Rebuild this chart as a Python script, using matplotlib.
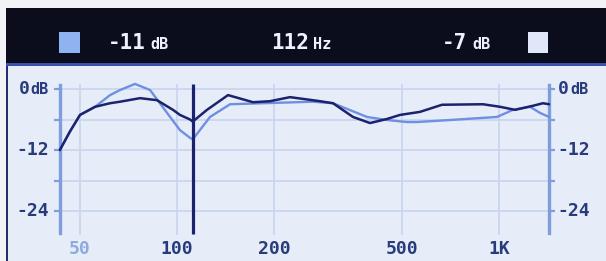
import matplotlib
matplotlib.use("Agg")
import matplotlib.pyplot as plt
from matplotlib.patches import Rectangle

# ---------------- data ----------------
dark_freq = [43.3, 46.5, 50, 55.7, 62.0, 66.6, 76.8, 86.7, 97.2, 102.2, 109.8, 112,
             124.0, 144.1, 172.3, 194.6, 224.5, 278.2, 305.3, 352.2, 397.8, 449.0,
             492.9, 568.6, 665.6, 892.4, 1007.6, 1121.7, 1275.8, 1370.5, 1431]
dark_db = [-12.0, -8.4, -5.1, -3.5, -2.8, -2.5, -1.8, -2.2, -4.1, -5.1, -6.0, -6.4,
           -4.1, -1.2, -2.6, -2.4, -1.6, -2.4, -2.8, -5.5, -6.7, -5.9,
           -5.1, -4.5, -3.1, -3.0, -3.5, -4.1, -3.3, -2.8, -3.0]

light_freq = [43.3, 46.5, 50, 55.7, 62.0, 66.6, 74.1, 82.5, 93.2, 102.2, 109.8, 112,
              126.7, 146.2, 185.1, 264.6, 305.3, 389.3, 449.0, 518.2, 556.5, 704.8,
              986.2, 1105.8, 1248.8, 1341.5, 1431]
light_db = [-12.0, -8.4, -5.1, -3.5, -1.2, -0.2, 1.0, -0.2, -4.7, -8.1, -9.6, -9.9,
            -5.5, -3.0, -2.8, -2.5, -2.8, -5.5, -6.1, -6.5, -6.5, -6.1,
            -5.5, -4.1, -3.5, -4.7, -5.5]

x_ticks = [50, 100, 200, 500, 1000]
x_tick_labels = ["50", "100", "200", "500", "1K"]
y_ticks = [0, -6, -12, -18, -24]
y_labels = {0: "0", -12: "-12", -24: "-24"}

cursor_freq = 112
left_level = -11
right_level = -7

# ---------------- layout ----------------
W, H = 606, 261
PX_PER_DEC = 322.0
X50 = 80.0
Y0DB = 89.0
PX_PER_DB = 61.0 / 12.0


def px2f(x):
    return 50 * 10 ** ((x - X50) / PX_PER_DEC)


def py2db(y):
    return -(y - Y0DB) / PX_PER_DB


f_left, f_right = px2f(60), px2f(549)
plot_top, plot_left = 66, 6

MONO = "DejaVu Sans Mono"
navy_txt = "#283c7c"
axis_col = "#7d9ddb"
grid_col = "#c6d4ee"
dark_col = "#1b226e"
light_col = "#6f8fe2"

fig = plt.figure(figsize=(W / 100, H / 100), dpi=100, facecolor="#f1f3f7")

bg = fig.add_axes([0, 0, 1, 1])
bg.set_xlim(0, W)
bg.set_ylim(H, 0)
bg.axis("off")
# header
bg.add_patch(Rectangle((plot_left, 8), W - plot_left, 56, color="#0b0d1c", lw=0))
bg.add_patch(Rectangle((plot_left, 63), W - plot_left, 3, color="#3a52ad", lw=0))
# plot background
bg.add_patch(Rectangle((plot_left, plot_top), W - plot_left, H - plot_top, color="#e6edf8", lw=0))
bg.add_patch(Rectangle((plot_left, plot_top), 2, H - plot_top, color="#26306e", lw=0))
# header squares
bg.add_patch(Rectangle((59, 32), 21, 21, color="#8fb3f0", lw=0))
bg.add_patch(Rectangle((528, 32), 20, 21, color="#dfe7f8", lw=0))
hdr = dict(color="#eef2ff", fontfamily=MONO, fontweight="bold", va="center")
bg.text(146, 43, f"{left_level}", fontsize=15, ha="right", **hdr)
bg.text(150, 44.5, "dB", fontsize=11, ha="left", **hdr)
bg.text(309, 43, f"{cursor_freq}", fontsize=15, ha="right", **hdr)
bg.text(313, 44.5, "Hz", fontsize=11, ha="left", **hdr)
bg.text(467, 43, f"{right_level}", fontsize=15, ha="right", **hdr)
bg.text(472, 44.5, "dB", fontsize=11, ha="left", **hdr)

# data axes
ax = fig.add_axes([plot_left / W, 0, (W - plot_left) / W, (H - plot_top) / H])
ax.set_xscale("log")
ax.set_xlim(px2f(plot_left), px2f(W))
ax.set_ylim(py2db(H), py2db(plot_top))
ax.patch.set_alpha(0)
for s in ["top", "bottom"]:
    ax.spines[s].set_visible(False)
y_lo, y_hi = py2db(233), py2db(85)
for s, pos in [("left", f_left), ("right", f_right)]:
    ax.spines[s].set_position(("data", pos))
    ax.spines[s].set_bounds(y_lo, y_hi)
    ax.spines[s].set_color(axis_col)
    ax.spines[s].set_linewidth(2.4)
ax.set_yticks(y_ticks)
ax.yaxis.set_ticks_position("both")
ax.tick_params(axis="y", direction="out", length=4, width=1.6, color=axis_col,
               labelleft=False, labelright=False)
ax.set_xticks([])
ax.xaxis.set_minor_locator(matplotlib.ticker.NullLocator())

# grid
ax.hlines(y_ticks, f_left, f_right, color=grid_col, lw=1.2, zorder=1)
ax.vlines(x_ticks, py2db(235), py2db(84), color=grid_col, lw=1.2, zorder=1)

lab_kw = dict(textcoords="offset pixels", va="center", fontweight="bold",
              fontfamily=MONO, color=navy_txt)
# y labels
for v, lab in y_labels.items():
    if v == 0:
        ax.annotate("dB", (f_left, v), xytext=(-11, -1), ha="right", fontsize=11, **lab_kw)
        ax.annotate("0", (f_left, v), xytext=(-30, 0), ha="right", fontsize=13, **lab_kw)
        ax.annotate("0", (f_right, v), xytext=(9, 0), ha="left", fontsize=13, **lab_kw)
        ax.annotate("dB", (f_right, v), xytext=(21, -1), ha="left", fontsize=11, **lab_kw)
    else:
        ax.annotate(lab, (f_left, v), xytext=(-11, 0), ha="right", fontsize=13, **lab_kw)
        ax.annotate(lab, (f_right, v), xytext=(8, 0), ha="left", fontsize=13, **lab_kw)

# x labels
for f, lab in zip(x_ticks, x_tick_labels):
    ax.text(f, py2db(249), lab, ha="center", va="center", fontsize=13, fontweight="bold",
            fontfamily=MONO, color="#8eaade" if f == 50 else navy_txt)

# curves
ax.plot(light_freq, light_db, color=light_col, lw=1.7, zorder=3,
        solid_capstyle="round", solid_joinstyle="round")
ax.plot(dark_freq, dark_db, color=dark_col, lw=1.8, zorder=4,
        solid_capstyle="round", solid_joinstyle="round")
# cursor
ax.vlines(cursor_freq, py2db(234), py2db(84), color=dark_col, lw=2.3, zorder=5)

fig.savefig("out.png", dpi=100, facecolor=fig.get_facecolor())
